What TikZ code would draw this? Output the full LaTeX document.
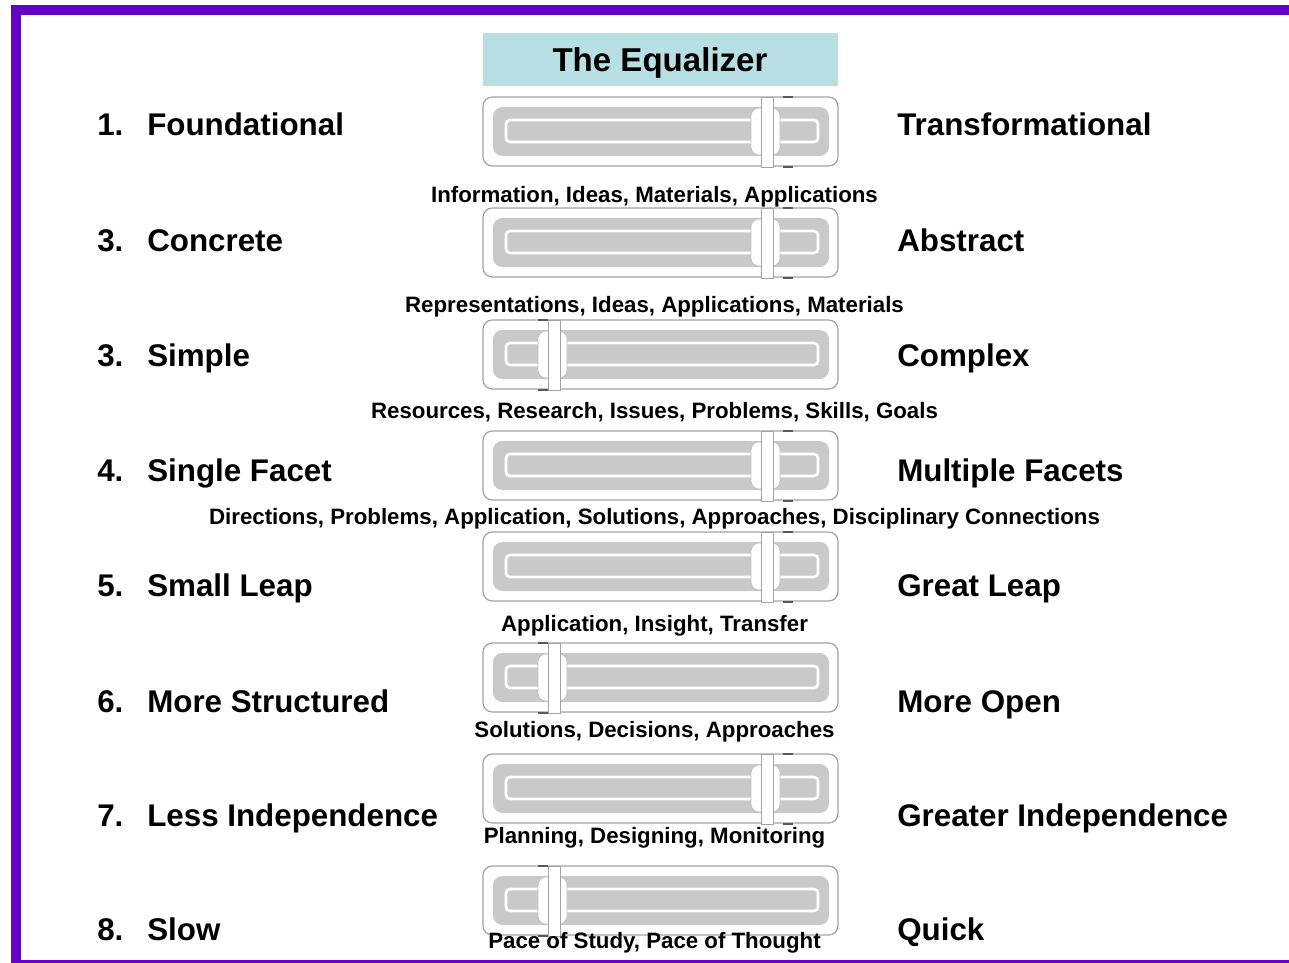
\documentclass[tikz,border=0pt]{standalone}
\usepackage{fontspec}
\setmainfont{Liberation Sans}

\definecolor{framepurple}{HTML}{6402C6}
\definecolor{titleteal}{HTML}{B8DFE3}
\definecolor{bandgray}{HTML}{C9C9C9}
\definecolor{edgegray}{HTML}{A3A3A3}

\tikzset{
  outerbox/.style={draw=edgegray, fill=white, line width=0.9pt, rounded corners=7pt},
  band/.style={fill=bandgray, rounded corners=7pt},
  track/.style={fill=bandgray, draw=white, line width=2pt, rounded corners=3pt},
  knob/.style={fill=white, draw=edgegray!70, line width=0.5pt, rounded corners=6pt},
  knobbar/.style={fill=white, draw=edgegray, line width=0.6pt},
  knobmark/.style={draw=black!65, line width=1pt},
  % one fader: #1 = left edge of the knob bar, #2 = offset of its shadow marks
  pics/eqslider/.style 2 args={code={
    \draw[outerbox] (0,0) rectangle (355,69);
    \fill[band] (10,10) rectangle (346,59);
    \draw[track] (23,23) rectangle (335,45);
    \draw[knob] ({#1-10},11) rectangle ({#1+19},58);
    \draw[knobmark] ({#1+#2},0) -- ({#1+#2+10},0);
    \draw[knobmark] ({#1+#2},70) -- ({#1+#2+10},70);
    \draw[knobbar] (#1,0) rectangle ({#1+12},70);
  }},
  rowlabel/.style={font=\bfseries\fontsize{23.5}{28}\selectfont, inner sep=0pt, anchor=base west},
  caption/.style={font=\bfseries\fontsize{16.7}{20}\selectfont, inner sep=0pt, anchor=base},
  titletext/.style={font=\bfseries\fontsize{24.8}{30}\selectfont, inner sep=0pt, anchor=base},
}

\begin{document}
\begin{tikzpicture}[x=0.75pt, y=-0.75pt]
  \useasboundingbox (0,0) rectangle (1289,963);

  % purple frame, open on the right
  \fill[framepurple] (11,5) rectangle (1289,963);
  \fill[white] (21,15) rectangle (1289,960);

  % heading
  \fill[titleteal] (483,33) rectangle (838,86);
  \node[titletext] (title) at (660,72) {The Equalizer};

  % rows: top of fader / label baseline / number / left / right / knob / mark / caption / caption baseline
  \foreach \top/\base/\num/\lt/\rt/\h/\mk/\cap/\cb [count=\n] in {
     97/136/1./Foundational/Transformational/278/22/{Information, Ideas, Materials, Applications}/203,
    208/252/3./Concrete/Abstract/278/22/{Representations, Ideas, Applications, Materials}/312,
    320/366/3./Simple/Complex/65/-10/{Resources, Research, Issues, Problems, Skills, Goals}/418,
    431/481/4./Single Facet/Multiple Facets/278/22/{Directions, Problems, Application, Solutions, Approaches, Disciplinary Connections}/524,
    532/596/5./Small Leap/Great Leap/278/22/{Application, Insight, Transfer}/631,
    643/712/6./More Structured/More Open/65/-10/{Solutions, Decisions, Approaches}/737,
    754/826/7./Less Independence/Greater Independence/278/22/{Planning, Designing, Monitoring}/843,
    866/940/8./Slow/Quick/65/-10/{Pace of Study, Pace of Thought}/948}
  {
    \pic at (483,\top) {eqslider={\h}{\mk}};
    \node[rowlabel] (num\n) at (97,\base) {\num};
    \node[rowlabel] (left\n) at (147,\base) {\lt};
    \node[rowlabel] (right\n) at (897,\base) {\rt};
    \node[caption] (cap\n) at (654.5,\cb) {\cap};
  }
\end{tikzpicture}
\end{document}
